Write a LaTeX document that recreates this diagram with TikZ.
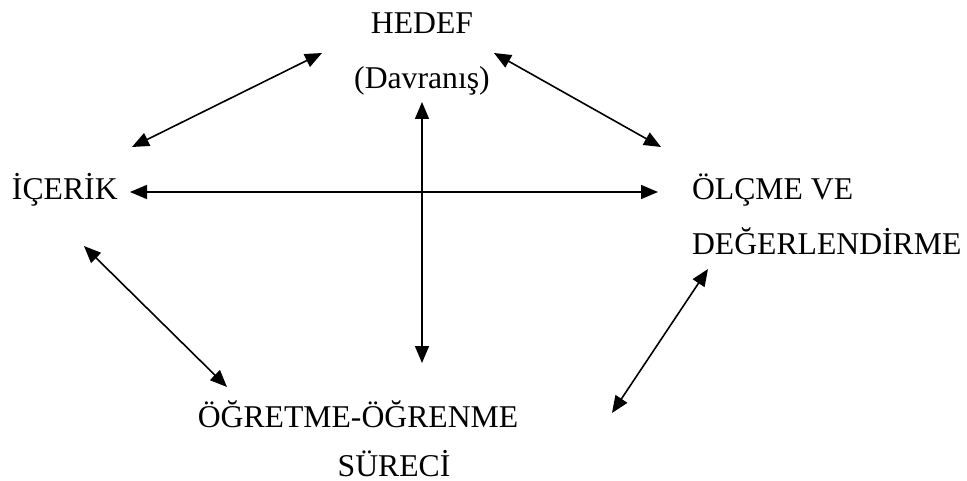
\documentclass[tikz,border=0pt]{standalone}
\usepackage{fontspec}
\setmainfont{Liberation Serif}
\usetikzlibrary{arrows.meta}
\begin{document}
\begin{tikzpicture}[x=1pt,y=-1pt,
  lbl/.style={inner sep=0pt,outer sep=0pt,text depth=0pt,font=\fontsize{31.7}{38}\selectfont},
  link/.style={line width=1.6pt,{Triangle[length=17pt,width=14pt]}-{Triangle[length=17pt,width=14pt]}}]
\useasboundingbox (0,0) rectangle (967,481);
% labels
\node[lbl,anchor=base] (hedef) at (422,34) {HEDEF};
\node[lbl,anchor=base] (davr) at (422,89) {(Davranış)};
\node[lbl,anchor=base west] (icerik) at (12,200) {İÇERİK};
\node[lbl,anchor=base west] (olcme) at (692,200) {ÖLÇME VE};
\node[lbl,anchor=base west] (deger) at (692,255) {DEĞERLENDİRME};
\node[lbl,anchor=base] (ogretme) at (358,427) {ÖĞRETME-ÖĞRENME};
\node[lbl,anchor=base] (surec) at (394,476) {SÜRECİ};
% arrow end points
\coordinate (hl) at (322,53);
\coordinate (hr) at (494,53);
\coordinate (hb) at (422,102);
\coordinate (il) at (132,147);
\coordinate (ir) at (130,192);
\coordinate (ib) at (84,246);
\coordinate (ol) at (661,147);
\coordinate (oh) at (658,192);
\coordinate (ob) at (708,269);
\coordinate (st) at (422,363);
\coordinate (sl) at (227,387);
\coordinate (sr) at (612,413);
% connectors
\draw[link] (il) -- (hl);
\draw[link] (hr) -- (ol);
\draw[link] (hb) -- (st);
\draw[link] (ir) -- (oh);
\draw[link] (ib) -- (sl);
\draw[link] (ob) -- (sr);
\end{tikzpicture}
\end{document}
